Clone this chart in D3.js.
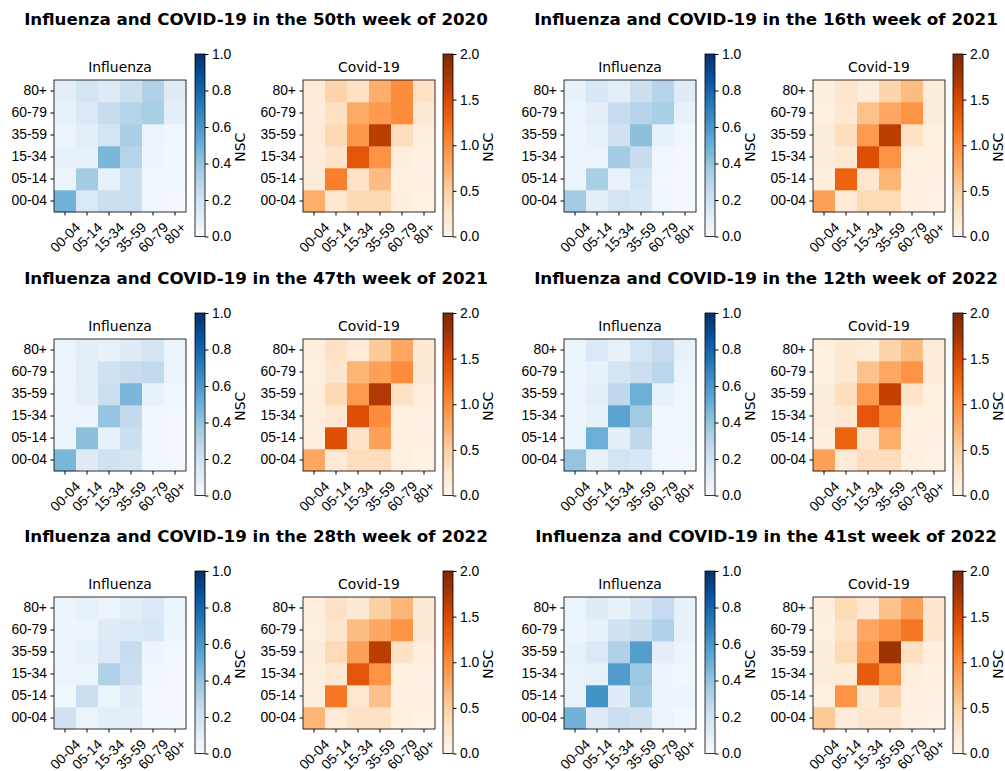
<!DOCTYPE html>
<html>
<head>
<meta charset="utf-8">
<script src="https://cdn.jsdelivr.net/npm/d3@7"></script>
<style>
  body { margin: 0; background: #fff; }
  svg { display: block; font-family: "DejaVu Sans", sans-serif; }
  .tick text { font-size: 13.9px; fill: #000; }
</style>
</head>
<body>
<div class="chart"></div>
<script>
var ageGroups = ["00-04", "05-14", "15-34", "35-59", "60-79", "80+"];

var weekTitles = [
    "Influenza and COVID-19 in the 50th week of 2020",
    "Influenza and COVID-19 in the 16th week of 2021",
    "Influenza and COVID-19 in the 47th week of 2021",
    "Influenza and COVID-19 in the 12th week of 2022",
    "Influenza and COVID-19 in the 28th week of 2022",
    "Influenza and COVID-19 in the 41st week of 2022"
];

// rows go from 00-04 (bottom) up to 80+ (top), columns 00-04 .. 80+
var flu2020w50 = [
    [0.48, 0.14, 0.22, 0.22, 0.04, 0.03],
    [0.06, 0.36, 0.08, 0.22, 0.04, 0.04],
    [0.08, 0.08, 0.46, 0.30, 0.05, 0.04],
    [0.06, 0.10, 0.18, 0.34, 0.06, 0.04],
    [0.08, 0.14, 0.24, 0.30, 0.34, 0.10],
    [0.10, 0.18, 0.13, 0.22, 0.32, 0.12]
];
var covid2020w50 = [
    [0.75, 0.22, 0.40, 0.40, 0.12, 0.06],
    [0.15, 1.10, 0.28, 0.65, 0.10, 0.08],
    [0.15, 0.28, 1.40, 0.95, 0.12, 0.08],
    [0.18, 0.40, 0.92, 1.65, 0.35, 0.12],
    [0.15, 0.32, 0.78, 0.90, 1.00, 0.20],
    [0.18, 0.45, 0.32, 0.75, 1.00, 0.30]
];

var flu2021w16 = [
    [0.36, 0.10, 0.18, 0.16, 0.04, 0.02],
    [0.05, 0.34, 0.07, 0.18, 0.03, 0.03],
    [0.06, 0.06, 0.36, 0.24, 0.04, 0.03],
    [0.05, 0.08, 0.20, 0.42, 0.08, 0.04],
    [0.06, 0.10, 0.24, 0.30, 0.34, 0.08],
    [0.08, 0.16, 0.10, 0.22, 0.30, 0.12]
];
var covid2021w16 = [
    [0.85, 0.18, 0.38, 0.38, 0.08, 0.06],
    [0.12, 1.30, 0.25, 0.70, 0.08, 0.08],
    [0.15, 0.22, 1.45, 0.95, 0.10, 0.08],
    [0.15, 0.35, 0.90, 1.65, 0.30, 0.10],
    [0.10, 0.22, 0.60, 0.80, 0.95, 0.15],
    [0.12, 0.25, 0.15, 0.45, 0.65, 0.15]
];

var flu2021w47 = [
    [0.46, 0.12, 0.20, 0.18, 0.04, 0.03],
    [0.05, 0.42, 0.08, 0.22, 0.04, 0.03],
    [0.05, 0.05, 0.40, 0.26, 0.04, 0.03],
    [0.06, 0.10, 0.22, 0.46, 0.08, 0.04],
    [0.05, 0.10, 0.20, 0.24, 0.26, 0.06],
    [0.06, 0.10, 0.08, 0.12, 0.18, 0.06]
];
var covid2021w47 = [
    [0.80, 0.18, 0.35, 0.35, 0.10, 0.06],
    [0.12, 1.45, 0.28, 0.85, 0.10, 0.08],
    [0.12, 0.22, 1.45, 1.00, 0.10, 0.08],
    [0.12, 0.40, 0.90, 1.70, 0.30, 0.12],
    [0.10, 0.25, 0.70, 0.85, 1.00, 0.20],
    [0.12, 0.30, 0.18, 0.55, 0.80, 0.20]
];

var flu2022w12 = [
    [0.40, 0.08, 0.18, 0.16, 0.04, 0.03],
    [0.05, 0.50, 0.10, 0.27, 0.04, 0.04],
    [0.06, 0.08, 0.55, 0.37, 0.04, 0.04],
    [0.06, 0.10, 0.27, 0.50, 0.08, 0.04],
    [0.05, 0.08, 0.18, 0.22, 0.28, 0.06],
    [0.06, 0.14, 0.08, 0.18, 0.25, 0.08]
];
var covid2022w12 = [
    [0.85, 0.18, 0.35, 0.35, 0.10, 0.06],
    [0.12, 1.30, 0.25, 0.75, 0.08, 0.08],
    [0.15, 0.22, 1.40, 1.00, 0.10, 0.08],
    [0.15, 0.35, 0.90, 1.60, 0.28, 0.10],
    [0.10, 0.22, 0.60, 0.80, 0.95, 0.18],
    [0.10, 0.22, 0.15, 0.45, 0.65, 0.15]
];

var flu2022w28 = [
    [0.20, 0.06, 0.10, 0.10, 0.03, 0.02],
    [0.04, 0.22, 0.06, 0.12, 0.03, 0.03],
    [0.06, 0.06, 0.32, 0.22, 0.04, 0.03],
    [0.05, 0.08, 0.14, 0.24, 0.05, 0.03],
    [0.05, 0.06, 0.12, 0.14, 0.16, 0.05],
    [0.06, 0.08, 0.06, 0.10, 0.14, 0.06]
];
var covid2022w28 = [
    [0.70, 0.18, 0.30, 0.30, 0.10, 0.06],
    [0.12, 1.15, 0.22, 0.60, 0.08, 0.08],
    [0.12, 0.22, 1.40, 0.95, 0.10, 0.08],
    [0.15, 0.38, 0.85, 1.65, 0.30, 0.12],
    [0.10, 0.25, 0.65, 0.80, 0.95, 0.20],
    [0.12, 0.30, 0.20, 0.50, 0.70, 0.20]
];

var flu2022w41 = [
    [0.48, 0.12, 0.22, 0.20, 0.05, 0.03],
    [0.07, 0.62, 0.12, 0.35, 0.06, 0.05],
    [0.07, 0.08, 0.58, 0.38, 0.05, 0.04],
    [0.08, 0.14, 0.32, 0.57, 0.10, 0.05],
    [0.05, 0.08, 0.20, 0.24, 0.32, 0.08],
    [0.06, 0.12, 0.08, 0.16, 0.25, 0.08]
];
var covid2022w41 = [
    [0.55, 0.15, 0.25, 0.25, 0.08, 0.05],
    [0.10, 0.95, 0.20, 0.45, 0.08, 0.08],
    [0.15, 0.18, 1.35, 0.95, 0.12, 0.08],
    [0.15, 0.38, 0.90, 1.80, 0.32, 0.12],
    [0.10, 0.30, 0.80, 0.95, 1.15, 0.25],
    [0.12, 0.38, 0.22, 0.60, 0.85, 0.25]
];

var fluTicks = [0, 0.2, 0.4, 0.6, 0.8, 1.0];
var covidTicks = [0, 0.5, 1.0, 1.5, 2.0];

// colorbrewer stops, linearly interpolated like matplotlib
var bluesStops = ["#f7fbff", "#deebf7", "#c6dbef", "#9ecae1", "#6baed6", "#4292c6", "#2171b5", "#08519c", "#08306b"];
var orangesStops = ["#fff5eb", "#fee6ce", "#fdd0a2", "#fdae6b", "#fd8d3c", "#f16913", "#d94801", "#a63603", "#7f2704"];

var panels = [
    { title: weekTitles[0], flu: flu2020w50, covid: covid2020w50 },
    { title: weekTitles[1], flu: flu2021w16, covid: covid2021w16 },
    { title: weekTitles[2], flu: flu2021w47, covid: covid2021w47 },
    { title: weekTitles[3], flu: flu2022w12, covid: covid2022w12 },
    { title: weekTitles[4], flu: flu2022w28, covid: covid2022w28 },
    { title: weekTitles[5], flu: flu2022w41, covid: covid2022w41 }
];

function makeColor(stops, vmax) {
    return d3.scaleLinear()
        .domain(stops.map(function(s, i) { return vmax * i / (stops.length - 1); }))
        .range(stops)
        .interpolate(d3.interpolateRgb)
        .clamp(true);
}

var fluColor = makeColor(bluesStops, 1);
var covidColor = makeColor(orangesStops, 2);

var svgWidth = 1005;
var svgHeight = 771;
var size = 132;
var cbTop = 54, cbHeight = 182.5, cbWidth = 10;
var colStep = 510;
var rowTops = [0, 259, 517];

var svg = d3.select(".chart")
    .append("svg")
    .attr("width", svgWidth)
    .attr("height", svgHeight);

svg.append("rect").attr("width", svgWidth).attr("height", svgHeight).attr("fill", "#fff");

var defs = svg.append("defs");

function addGradient(id, color, vmax) {
    var grad = defs.append("linearGradient")
        .attr("id", id)
        .attr("x1", 0).attr("y1", 1).attr("x2", 0).attr("y2", 0);
    d3.range(0, 41).forEach(function(i) {
        grad.append("stop")
            .attr("offset", (i / 40 * 100) + "%")
            .attr("stop-color", color(vmax * i / 40));
    });
}
addGradient("bluesGrad", fluColor, 1);
addGradient("orangesGrad", covidColor, 2);

function drawHeatmap(g, matrix, color, title) {
    var x = d3.scaleBand().domain(ageGroups).range([0, size]);
    var y = d3.scaleBand().domain(ageGroups).range([size, 0]);

    matrix.forEach(function(row, i) {
        g.selectAll(null)
            .data(row)
            .enter()
            .append("rect")
            .attr("x", function(d, j) { return x(ageGroups[j]); })
            .attr("y", y(ageGroups[i]))
            .attr("width", x.bandwidth() + 0.3)
            .attr("height", y.bandwidth() + 0.3)
            .attr("fill", function(d) { return color(d); });
    });

    g.append("rect")
        .attr("width", size)
        .attr("height", size)
        .attr("fill", "none")
        .attr("stroke", "#000")
        .attr("stroke-width", 0.8);

    g.append("g")
        .call(d3.axisLeft(y).tickSize(3.5).tickPadding(3.5))
        .call(function(a) { a.select(".domain").remove(); });

    var xAxis = g.append("g")
        .attr("transform", "translate(0," + size + ")")
        .call(d3.axisBottom(x).tickSize(3.5).tickPadding(3.5));
    xAxis.select(".domain").remove();
    xAxis.selectAll(".tick text").each(function() {
        var t = d3.select(this);
        var w = this.getComputedTextLength();
        var h = 13.9 * 1.16;
        var half = (w + h) * Math.SQRT1_2 / 2;
        t.attr("y", null).attr("dy", null)
            .attr("text-anchor", "middle")
            .attr("dominant-baseline", "central")
            .attr("transform", "translate(0," + (7 + half) + ") rotate(-45)");
    });

    g.append("text")
        .attr("x", size / 2)
        .attr("y", -8)
        .attr("text-anchor", "middle")
        .style("font-size", "13.9px")
        .text(title);
}

function drawColorbar(g, gradId, vmax, ticks, fmt) {
    var scale = d3.scaleLinear().domain([0, vmax]).range([cbHeight, 0]);
    g.append("rect")
        .attr("width", cbWidth)
        .attr("height", cbHeight)
        .attr("fill", "url(#" + gradId + ")")
        .attr("stroke", "#000")
        .attr("stroke-width", 0.8);
    g.append("g")
        .attr("transform", "translate(" + cbWidth + ",0)")
        .call(d3.axisRight(scale).tickValues(ticks).tickFormat(d3.format(fmt)).tickSize(3.5).tickPadding(3.5))
        .call(function(a) { a.select(".domain").remove(); });
    g.append("text")
        .attr("transform", "translate(" + (cbWidth + 35) + "," + (cbHeight / 2 + 2) + ") rotate(-90)")
        .attr("text-anchor", "middle")
        .attr("dominant-baseline", "central")
        .style("font-size", "13.9px")
        .text("NSC");
}

panels.forEach(function(p, k) {
    var col = k % 2;
    var row = Math.floor(k / 2);
    var panel = svg.append("g")
        .attr("transform", "translate(" + (col * colStep) + "," + rowTops[row] + ")");

    panel.append("text")
        .attr("x", 256)
        .attr("y", 25)
        .attr("text-anchor", "middle")
        .style("font-size", "16.7px")
        .style("font-weight", "bold")
        .text(p.title);

    drawHeatmap(panel.append("g").attr("transform", "translate(54,80)"), p.flu, fluColor, "Influenza");
    drawColorbar(panel.append("g").attr("transform", "translate(195," + cbTop + ")"), "bluesGrad", 1, fluTicks, ".1f");

    drawHeatmap(panel.append("g").attr("transform", "translate(303,80)"), p.covid, covidColor, "Covid-19");
    drawColorbar(panel.append("g").attr("transform", "translate(443," + cbTop + ")"), "orangesGrad", 2, covidTicks, ".1f");
});
</script>
</body>
</html>
